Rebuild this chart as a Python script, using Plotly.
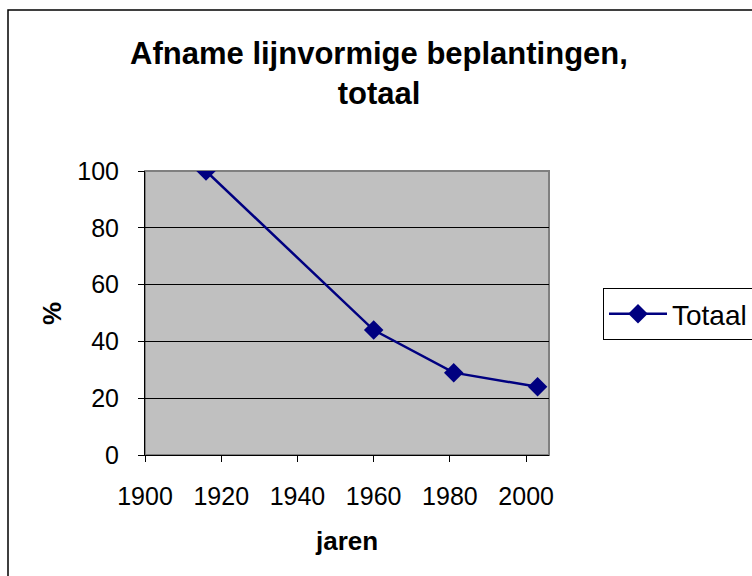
import plotly.graph_objects as go

# Data
years = [1916, 1960, 1981, 2003]
totaal = [100, 44, 29, 24]
x_ticks = [1900, 1920, 1940, 1960, 1980, 2000]
y_ticks = [0, 20, 40, 60, 80, 100]
series_name = "Totaal"
title_text = "Afname lijnvormige beplantingen,<br>totaal"
x_title = "jaren"
y_title = "%"

W, H = 752, 576
L, R, T, B = 145, 549, 171, 455  # plot area in px
FONT = "Arial, Liberation Sans, sans-serif"


def px_x(px):
    return (px - L) / (R - L)


def px_y(py):
    return (B - py) / (B - T)


fig = go.Figure()
fig.add_trace(go.Scatter(
    x=years, y=totaal, mode="lines+markers", name=series_name,
    line=dict(color="#000080", width=2.5),
    marker=dict(symbol="diamond", size=15, color="#000080"),
))

fig.update_layout(
    width=W, height=H,
    margin=dict(l=L, r=W - R, t=T, b=H - B, pad=0),
    paper_bgcolor="white",
    plot_bgcolor="#C0C0C0",
    font=dict(family=FONT, color="black", size=25),
    title=dict(text="<b>" + title_text + "</b>", x=379 / W, xanchor="center",
               y=1 - 64 / H, yanchor="top", yref="container",
               font=dict(size=31, family=FONT, color="black")),
    showlegend=True,
    legend=dict(xref="container", yref="container",
                x=603 / W, y=1 - 288 / H, xanchor="left", yanchor="top",
                bgcolor="white", bordercolor="black", borderwidth=1,
                font=dict(size=28, family=FONT), itemwidth=58,
                tracegroupgap=0),
    xaxis=dict(range=[1900, 2006], tickvals=x_ticks, ticks="outside",
               ticklen=6, tickcolor="black", showgrid=False, zeroline=False,
               showline=True, linecolor="black", linewidth=1,
               tickfont=dict(size=25), ticklabelstandoff=13),
    yaxis=dict(range=[0, 100], tickvals=y_ticks, ticks="outside",
               ticklen=6, tickcolor="black", showgrid=True,
               gridcolor="black", gridwidth=1, zeroline=False,
               showline=True, linecolor="black", linewidth=1,
               tickfont=dict(size=25), ticklabelstandoff=14),
    shapes=[
        dict(type="rect", xref="paper", yref="paper", x0=0, x1=1, y0=0, y1=1,
             line=dict(color="#808080", width=2), layer="below"),
        dict(type="rect", xref="paper", yref="paper",
             x0=px_x(8), x1=px_x(800), y0=px_y(10), y1=px_y(620),
             line=dict(color="black", width=1.5)),
    ],
    annotations=[
        dict(text="<b>" + x_title + "</b>", x=px_x(346), y=px_y(541),
             xref="paper", yref="paper", showarrow=False,
             font=dict(size=26, family=FONT), xanchor="center", yanchor="middle"),
        dict(text="<b>" + y_title + "</b>", x=px_x(52), y=px_y(314),
             xref="paper", yref="paper", showarrow=False, textangle=-90,
             font=dict(size=26, family=FONT), xanchor="center", yanchor="middle"),
    ],
)

fig.write_html("out.html",
               config={"displayModeBar": False},
               post_script="document.body.style.margin='0px';document.body.style.overflow='hidden';")
